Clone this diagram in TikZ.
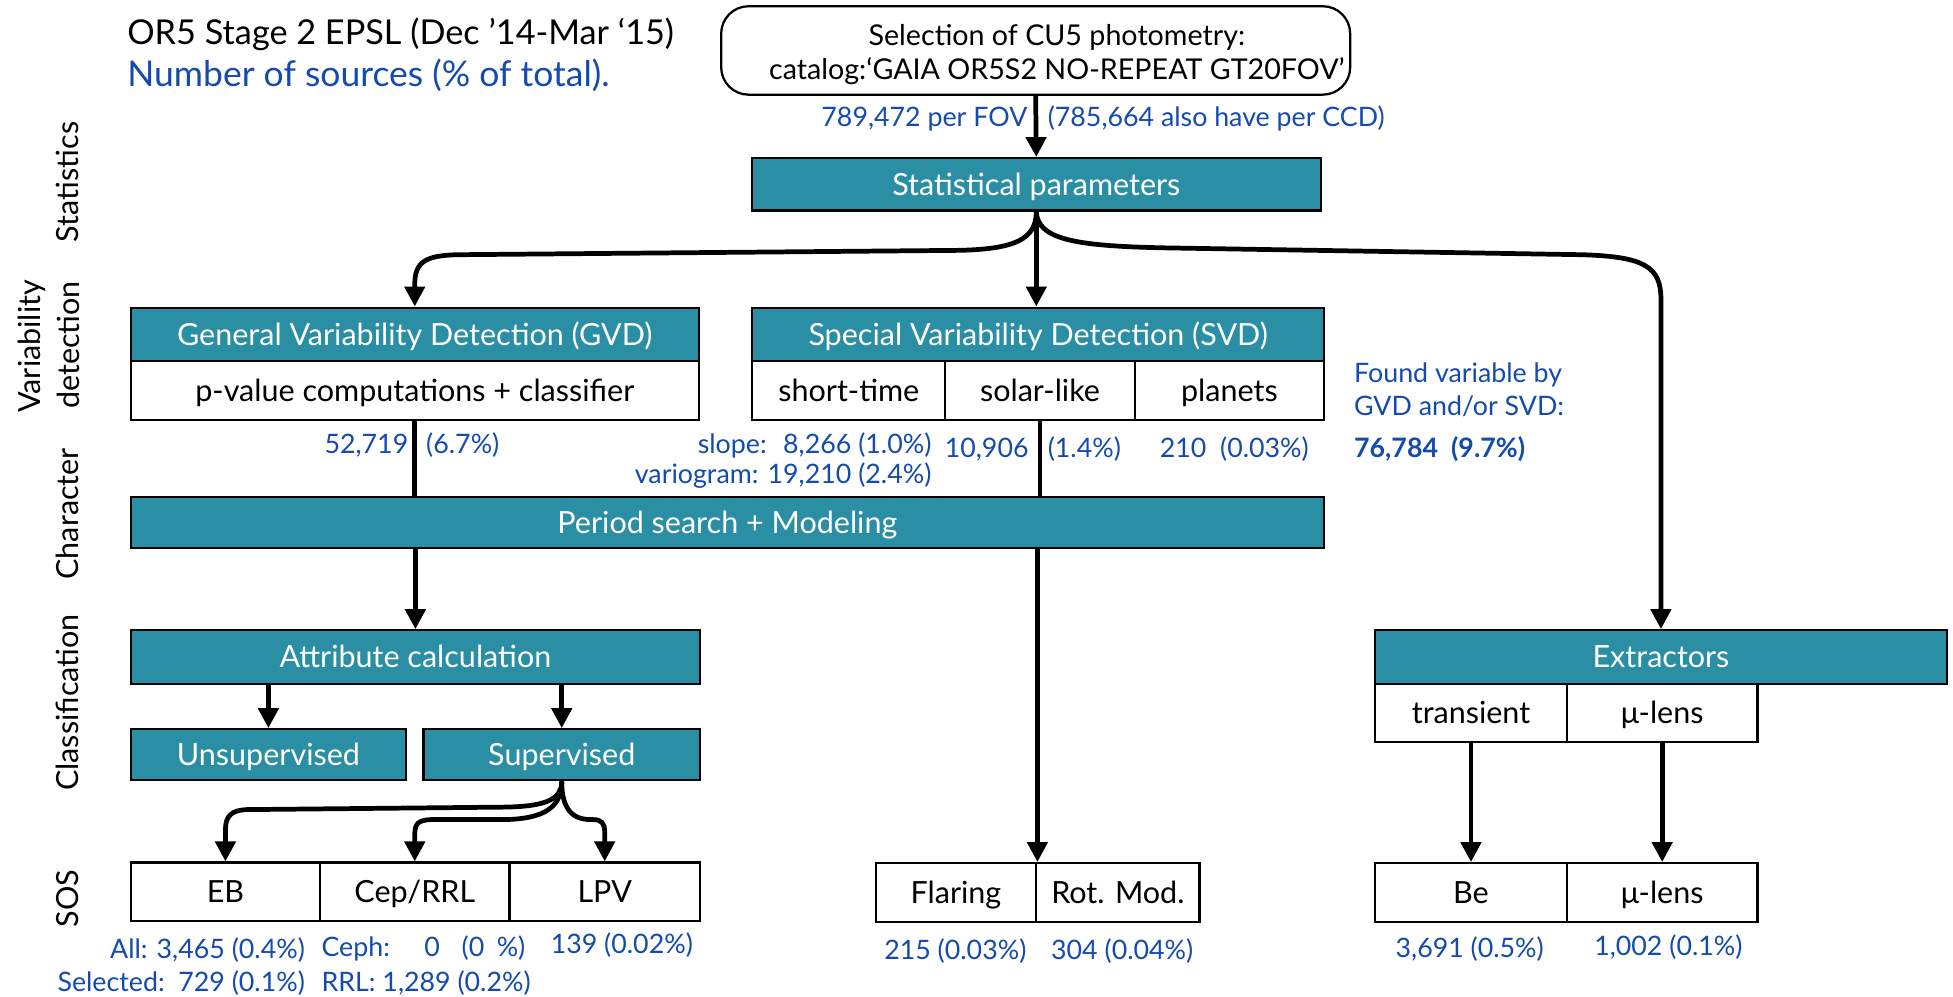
\documentclass[tikz,border=0pt]{standalone}
\usepackage{fontspec}
\setmainfont{Lato}
\usetikzlibrary{arrows.meta}
\definecolor{tealfill}{RGB}{42,142,164}
\definecolor{numblue}{RGB}{20,75,175}
\tikzset{
  boxbase/.style={draw=black, line width=1.8pt, inner sep=0pt, text height=17.5pt, text depth=0pt, font=\fontsize{24.5}{29}\selectfont},
  tbox/.style={boxbase, fill=tealfill, text=white},
  wbox/.style={boxbase, fill=white},
  topbox/.style={draw=black, line width=1.8pt, rounded corners=22pt, fill=white, inner sep=0pt, align=center, font=\fontsize{23}{27.5}\selectfont},
  conn/.style={line width=3.8pt, line join=round, -{Triangle[length=16pt,width=16pt]}},
  plain/.style={line width=3.8pt},
  num/.style={text=numblue, inner sep=0pt, text height=15.4pt, text depth=0pt, font=\fontsize{21.5}{26}\selectfont},
  side/.style={rotate=90, inner sep=0pt, text height=17.5pt, text depth=0pt, font=\fontsize{24.5}{29}\selectfont},
  ttl/.style={inner sep=0pt, anchor=west, text height=20.4pt, text depth=0pt, font=\fontsize{28.5}{34}\selectfont},
}
\begin{document}
\begin{tikzpicture}[x=1pt,y=-1pt]
\useasboundingbox (0,0) rectangle (1568,800);
\fill[white] (0,0) rectangle (1568,800);

% titles
\node[ttl, font=\fontsize{27.5}{33}\selectfont] (t1) at (102,25.5) {OR5 Stage 2 EPSL (Dec ’14-Mar ‘15)};
\node[ttl, text=numblue] (t2) at (102,59) {Number of sources (\% of total).};

% side labels
\node[side] (sStat) at (54,146) {Statistics};
\node[side] (sVar1) at (24,278) {Variability};
\node[side] (sVar2) at (55,277) {detection};
\node[side] (sChar) at (54,412.5) {Character};
\node[side] (sClass) at (54,564) {Classification};
\node[side] (sSOS) at (54,721.5) {SOS};

% top box
\node[topbox, minimum width=505pt, minimum height=71pt] (top) at (831.5,40.5)
  {\hspace*{34pt}\rule{0pt}{23pt}Selection of CU5 photometry:\\\hspace*{34pt}catalog:‘GAIA OR5S2 NO-REPEAT GT20FOV’};
\node[num, anchor=east] (l789) at (825,94) {789,472 per FOV};
\node[num, anchor=west] (l785) at (841,94) {(785,664 also have per CCD)};

% statistics
\node[tbox, minimum width=457pt, minimum height=42pt] (stat) at (832,148) {Statistical parameters};

% variability detection
\node[tbox, minimum width=456pt, minimum height=43pt] (gvdh) at (333,268.5) {General Variability Detection (GVD)};
\node[wbox, minimum width=456pt, minimum height=47pt] (gvdb) at (333,313.5) {p-value computations + classifier};
\node[tbox, minimum width=459pt, minimum height=43pt] (svdh) at (833.5,268.5) {Special Variability Detection (SVD)};
\node[wbox, minimum width=155pt, minimum height=47pt] (short) at (681.5,313.5) {short-time};
\node[wbox, minimum width=152pt, minimum height=47pt] (solar) at (835,313.5) {solar-like};
\node[wbox, minimum width=152pt, minimum height=47pt] (planets) at (987,313.5) {planets};

\node[num, anchor=east] (n52) at (328,356) {52,719};
\node[num, anchor=west] (n67) at (342,356) {(6.7\%)};
\node[num, anchor=west] (nslope) at (560,356) {slope:};
\node[num, anchor=east] (nslopev) at (748,356) {8,266 (1.0\%)};
\node[num, anchor=east] (nvario) at (748,380.5) {variogram: 19,210 (2.4\%)};
\node[num, anchor=east] (n109) at (826,359.5) {10,906};
\node[num, anchor=west] (n14) at (841,359.5) {(1.4\%)};
\node[num, anchor=west] (n210) at (931,359.5) {210\ \ (0.03\%)};
\node[num, anchor=west] (f1) at (1087,299) {Found variable by};
\node[num, anchor=west] (f2) at (1087,326) {GVD and/or SVD:};
\node[num, anchor=west] (f3) at (1087,359.5) {\bfseries 76,784\ \ (9.7\%)};

% character
\node[tbox, minimum width=958pt, minimum height=41pt] (period) at (584,419.5) {Period search + Modeling};

% classification
\node[tbox, minimum width=457pt, minimum height=43pt] (attr) at (333.5,527.5) {Attribute calculation};
\node[tbox, minimum width=221pt, minimum height=41pt] (unsup) at (215.5,606) {Unsupervised};
\node[tbox, minimum width=222pt, minimum height=41pt] (sup) at (451,606) {Supervised};

\node[tbox, minimum width=459pt, minimum height=43pt] (extr) at (1333.5,527.5) {Extractors};
\node[wbox, minimum width=154pt, minimum height=47pt] (trans) at (1181,572.5) {transient};
\node[wbox, minimum width=153pt, minimum height=47pt] (mul1) at (1334.5,572.5) {μ-lens};

% SOS
\node[wbox, minimum width=152pt, minimum height=47pt] (EB) at (181,716) {EB};
\node[wbox, minimum width=152pt, minimum height=47pt] (Cep) at (333,716) {Cep/RRL};
\node[wbox, minimum width=153pt, minimum height=47pt] (LPV) at (485.5,716) {LPV};
\node[wbox, minimum width=129pt, minimum height=47pt] (flaring) at (767.5,716.5) {Flaring};
\node[wbox, minimum width=131pt, minimum height=47pt] (rotmod) at (897.5,716.5) {Rot. Mod.};
\node[wbox, minimum width=154pt, minimum height=47pt] (be) at (1181,716.5) {Be};
\node[wbox, minimum width=153pt, minimum height=47pt] (mul2) at (1334.5,716.5) {μ-lens};

\node[num, anchor=east] (sAll) at (245,762) {All: 3,465 (0.4\%)};
\node[num, anchor=west] (sSel) at (46,788) {Selected:};
\node[num, anchor=east] (sSelv) at (245,788) {729 (0.1\%)};
\node[num, anchor=west] (sCeph) at (258,760) {Ceph:};
\node[num] (sCeph0) at (347,760) {0};
\node[num, anchor=east] (sCephv) at (422,760) {(0\hspace{10pt}\%)};
\node[num, anchor=west] (sRRL) at (258,788) {RRL: 1,289 (0.2\%)};
\node[num, anchor=west] (sLPV) at (442,758) {139 (0.02\%)};
\node[num] (sFl) at (767,763) {215 (0.03\%)};
\node[num] (sRot) at (901,763) {304 (0.04\%)};
\node[num] (sBe) at (1180,761) {3,691 (0.5\%)};
\node[num] (sMu) at (1339.5,759.5) {1,002 (0.1\%)};

% connectors
\draw[conn] (top.south) -- (stat.north);
\draw[conn] (stat.south) -- (stat.south |- svdh.north);
\draw[conn] (stat.south) .. controls (832,192) and (815,200) .. (770,201) -- (368,204.5)
  .. controls (342,205) and (333,210) .. (333,228) -- (gvdh.north);
\draw[conn] (stat.south) .. controls (833,192) and (862,197.5) .. (935,199) -- (1270,204.5)
  .. controls (1320,206) and (1333.5,214) .. (1333.5,240) -- (extr.north);
\draw[plain] (gvdb.south) -- (gvdb.south |- period.north);
\draw[plain] (solar.south) -- (solar.south |- period.north);
\draw[conn] (period.south -| attr.north) -- (attr.north);
\draw[conn] (period.south -| flaring.east) -- (flaring.north east);
\draw[conn] (attr.south -| unsup.north) -- (unsup.north);
\draw[conn] (attr.south -| sup.north) -- (sup.north);
\draw[conn] (sup.south) .. controls (451,641) and (440,647.5) .. (405,648) -- (198,650)
  .. controls (186,650.5) and (181,655) .. (181,666) -- (EB.north);
\draw[conn] (sup.south) .. controls (451,648) and (437,657.5) .. (405,658) -- (346,658)
  .. controls (336,658.5) and (333,661) .. (333,670) -- (Cep.north);
\draw[conn] (sup.south) .. controls (451,646) and (457,658) .. (474,658) -- (476,658)
  .. controls (483,658) and (485.5,661) .. (485.5,668) -- (LPV.north);
\draw[conn] (trans.south) -- (be.north);
\draw[conn] (mul1.south) -- (mul2.north);
\end{tikzpicture}
\end{document}
